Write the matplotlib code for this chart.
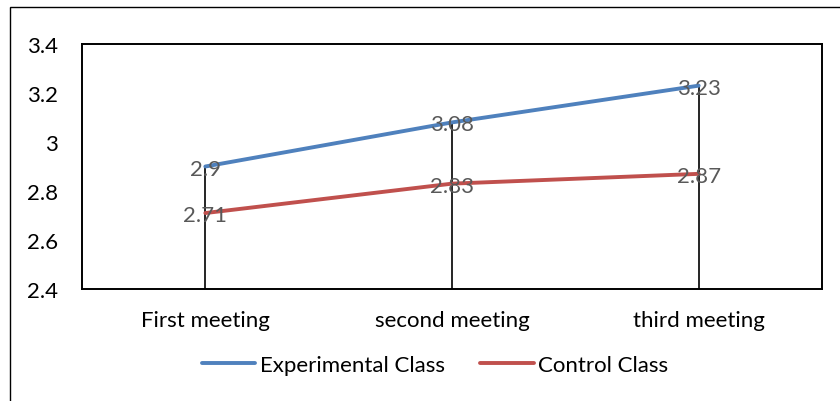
import matplotlib
matplotlib.use("Agg")
import matplotlib.pyplot as plt
from matplotlib.patches import Rectangle

categories = ["First meeting", "second meeting", "third meeting"]
experimental = [2.9, 3.08, 3.23]
control = [2.71, 2.83, 2.87]
series_names = ["Experimental Class", "Control Class"]
yticks = [2.4, 2.6, 2.8, 3.0, 3.2, 3.4]
ytick_labels = ["2.4", "2.6", "2.8", "3", "3.2", "3.4"]

plt.rcParams['font.family'] = ['Lato', 'DejaVu Sans']

fig = plt.figure(figsize=(8.4, 4.02), dpi=100)
W, H = 840, 402
ax = fig.add_axes([82 / W, 1 - 290 / H, 740 / W, 245 / H])

# outer chart border
fig.patches.append(Rectangle((10 / W, -0.1), 1.2, 1 - 8 / H + 0.1, transform=fig.transFigure,
                             fill=False, edgecolor='#000000', linewidth=1.0))

x = list(range(len(categories)))
blue = '#4F81BD'
red = '#C0504D'

# drop lines
for i in x:
    top = max(experimental[i], control[i])
    ax.vlines(i, 2.4, top, colors='black', linewidth=1.2, zorder=2)

ax.plot(x, experimental, color=blue, linewidth=2.8, label=series_names[0], zorder=3,
        solid_capstyle='round')
ax.plot(x, control, color=red, linewidth=2.8, label=series_names[1], zorder=3,
        solid_capstyle='round')

for i in x:
    ax.annotate(f"{experimental[i]:g}", (i, experimental[i]), xytext=(0, -1.5),
                textcoords='offset points', ha='center', va='center',
                color='#595959', fontsize=16, zorder=4)
    ax.annotate(f"{control[i]:g}", (i, control[i]), xytext=(0, -1.5),
                textcoords='offset points', ha='center', va='center',
                color='#595959', fontsize=16, zorder=4)

ax.set_xlim(-0.5, 2.5)
ax.set_ylim(2.4, 3.4)
ax.set_yticks(yticks)
ax.set_yticklabels(ytick_labels)
ax.set_xticks(x)
ax.set_xticklabels(categories)
ax.tick_params(axis='both', length=0, labelsize=16, colors='black')
ax.tick_params(axis='y', pad=17)
ax.tick_params(axis='x', pad=15)
for s in ax.spines.values():
    s.set_linewidth(1.4)
    s.set_color('black')

leg = fig.legend(loc='center', bbox_to_anchor=(0.518, 1 - 366 / H), ncol=2, frameon=False,
                 fontsize=16, handlelength=2.4, handletextpad=0.2, columnspacing=1.6)

fig.savefig("out.png", dpi=100)
